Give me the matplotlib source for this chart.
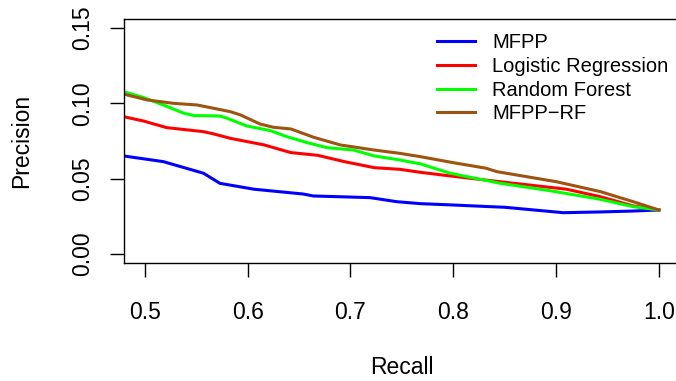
import matplotlib
matplotlib.use('Agg')
import matplotlib.pyplot as plt

plt.rcParams['font.family'] = ['Liberation Sans', 'DejaVu Sans']

# recall / precision
r_mfpp = [0.479, 0.518, 0.557, 0.573, 0.606, 0.654, 0.664, 0.719, 0.745, 0.768,
          0.80, 0.836, 0.85, 0.907, 0.943, 0.975, 1.0]
p_mfpp = [0.0651, 0.0613, 0.0536, 0.0469, 0.0430, 0.0398, 0.0385, 0.0374, 0.0347, 0.0334,
          0.0325, 0.0314, 0.031, 0.0274, 0.0279, 0.0285, 0.0292]

r_lr = [0.479, 0.4985, 0.521, 0.557, 0.567, 0.583, 0.616, 0.642, 0.668, 0.694,
        0.723, 0.748, 0.768, 0.797, 0.845, 0.910, 0.943, 0.975, 1.0]
p_lr = [0.0912, 0.0883, 0.0839, 0.0812, 0.0797, 0.0768, 0.0724, 0.0673, 0.0655, 0.0613,
        0.0573, 0.0562, 0.0542, 0.0518, 0.048, 0.043, 0.038, 0.0319, 0.0292]

r_rf = [0.479, 0.499, 0.518, 0.538, 0.548, 0.573, 0.580, 0.599, 0.622, 0.638,
        0.658, 0.677, 0.703, 0.723, 0.748, 0.768, 0.797, 0.845, 0.894, 0.943, 0.975, 1.0]
p_rf = [0.1078, 0.1038, 0.0989, 0.0934, 0.0919, 0.0916, 0.0901, 0.085, 0.0819, 0.0779,
        0.0739, 0.0706, 0.069, 0.0651, 0.0624, 0.0598, 0.0536, 0.047, 0.042, 0.0363, 0.0314, 0.0292]

r_mrf = [0.479, 0.502, 0.528, 0.551, 0.583, 0.593, 0.612, 0.625, 0.642, 0.664,
         0.690, 0.723, 0.748, 0.768, 0.800, 0.832, 0.842, 0.9, 0.943, 0.975, 1.0]
p_mrf = [0.1062, 0.1023, 0.1, 0.0989, 0.0945, 0.0923, 0.0863, 0.0841, 0.083, 0.0775,
         0.0724, 0.069, 0.0668, 0.0646, 0.0606, 0.0569, 0.0547, 0.048, 0.0414, 0.0347, 0.0292]

labels = ['MFPP', 'Logistic Regression', 'Random Forest', 'MFPP\u2212RF']
colours = ['#0000FF', '#FF0000', '#00FF00', '#9C5410']

fig = plt.figure(figsize=(6.76, 3.81), dpi=100)
ax = fig.add_axes([124.3/676, 118/381, (679.5-124.3)/676, (263-19)/381])

ax.plot(r_mfpp, p_mfpp, color=colours[0], lw=2.2, label=labels[0])
ax.plot(r_lr, p_lr, color=colours[1], lw=2.2, label=labels[1])
ax.plot(r_rf, p_rf, color=colours[2], lw=2.2, label=labels[2])
ax.plot(r_mrf, p_mrf, color=colours[3], lw=2.2, label=labels[3])

ax.set_xlim(0.48, 1.02)
ax.set_ylim(-0.006, 0.156)
ax.set_xticks([0.5, 0.6, 0.7, 0.8, 0.9, 1.0])
ax.set_xticklabels(['0.5', '0.6', '0.7', '0.8', '0.9', '1.0'])
ax.set_yticks([0.0, 0.05, 0.10, 0.15])
ax.set_yticklabels(['0.00', '0.05', '0.10', '0.15'], rotation=90, va='center')
ax.tick_params(axis='both', direction='out', length=10, width=1, labelsize=16.5)
ax.tick_params(axis='x', pad=17.5)
ax.tick_params(axis='y', pad=12)
for s in ax.spines.values():
    s.set_linewidth(1)

ax.set_xlabel('Recall', fontsize=16.5, labelpad=23)
ax.set_ylabel('Precision', fontsize=16.5, labelpad=27)

ax.legend(loc='upper left', bbox_to_anchor=(0.563, 0.943), frameon=False, fontsize=14.5,
          handlelength=1.9, handletextpad=0.85, labelspacing=0.24, borderaxespad=0,
          borderpad=0)

fig.savefig('out.png', dpi=100)
